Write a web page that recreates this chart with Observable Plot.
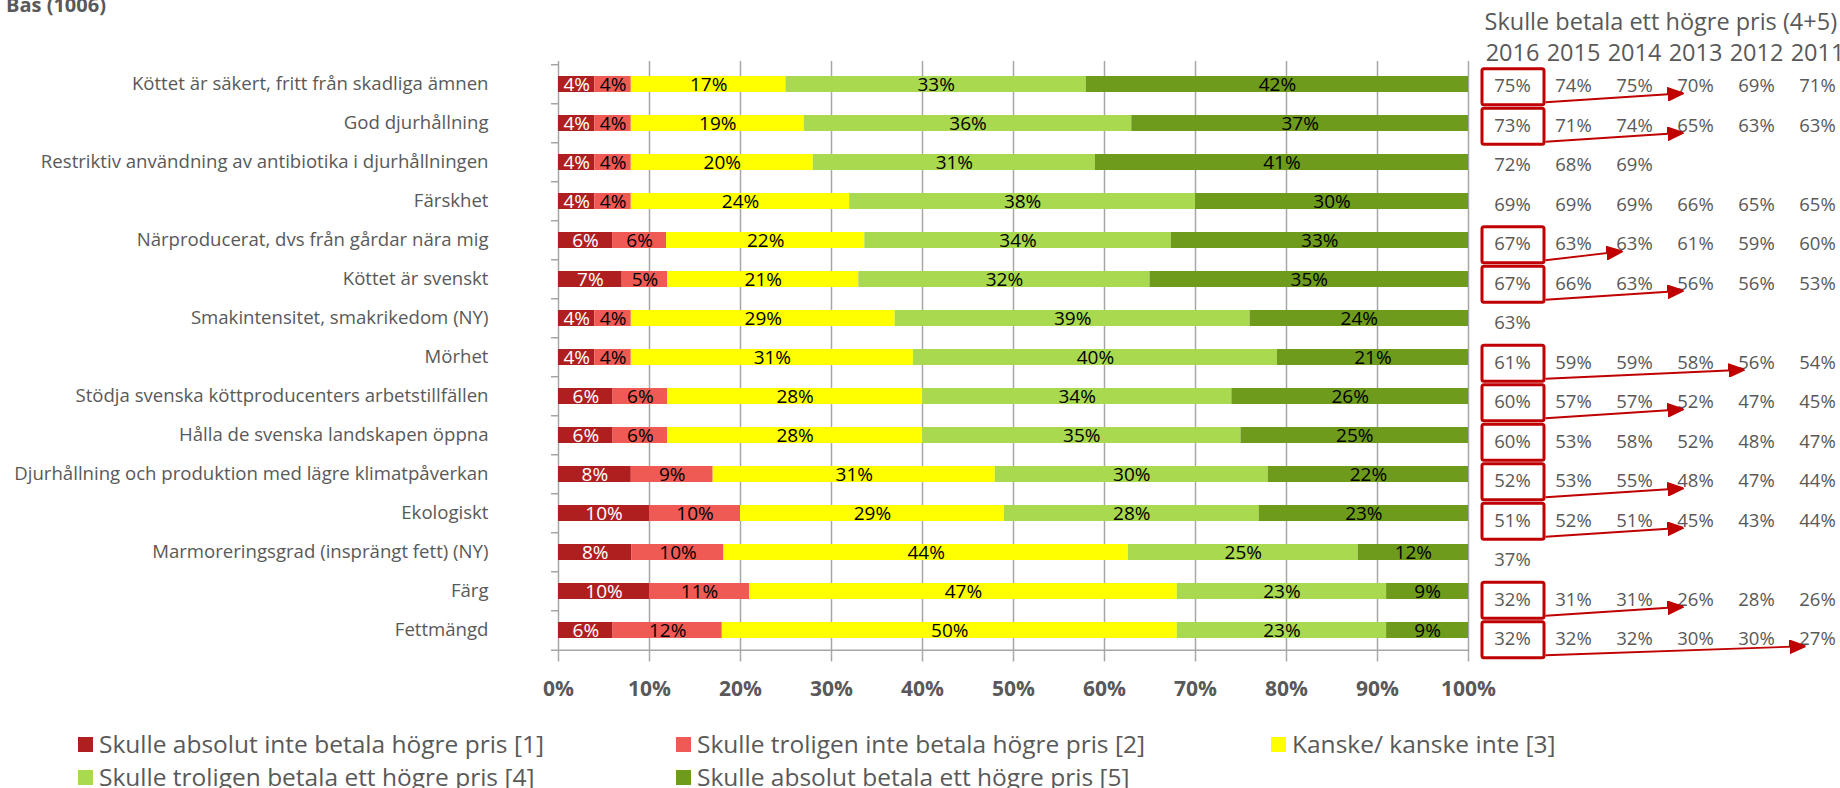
<!DOCTYPE html>
<html>
<head>
<meta charset="utf-8">
<script src="https://cdn.jsdelivr.net/npm/d3@7"></script>
<script src="https://cdn.jsdelivr.net/npm/@observablehq/plot@0.6"></script>
<style>
html, body { margin: 0; padding: 0; background: #fff; }
#root { position: relative; width: 1840px; height: 788px; overflow: hidden; font-family: "Open Sans", sans-serif; color: #595959; }
#title { position: absolute; left: 6px; top: -5px; font-weight: bold; font-size: 20px; line-height: 20px; white-space: nowrap; }
.legend-item { position: absolute; display: flex; align-items: center; height: 30px; line-height: 30px; font-size: 24.5px; white-space: nowrap; }
.sw { width: 15px; height: 15px; margin-right: 6px; flex: none; }
.chart { position: absolute; top: 0; }
</style>
</head>
<body>
<div id="root">
  <div id="title">Bas (1006)</div>
</div>
<script>
// ---------- data ----------
const categories = [
  "Köttet är säkert, fritt från skadliga ämnen",
  "God djurhållning",
  "Restriktiv användning av antibiotika i djurhållningen",
  "Färskhet",
  "Närproducerat, dvs från gårdar nära mig",
  "Köttet är svenskt",
  "Smakintensitet, smakrikedom (NY)",
  "Mörhet",
  "Stödja svenska köttproducenters arbetstillfällen",
  "Hålla de svenska landskapen öppna",
  "Djurhållning och produktion med lägre klimatpåverkan",
  "Ekologiskt",
  "Marmoreringsgrad (insprängt fett) (NY)",
  "Färg",
  "Fettmängd"
];
const levels = [
  "Skulle absolut inte betala högre pris [1]",
  "Skulle troligen inte betala högre pris [2]",
  "Kanske/ kanske inte [3]",
  "Skulle troligen betala ett högre pris [4]",
  "Skulle absolut betala ett högre pris [5]"
];
const colors = ["#B01F1F", "#F05A55", "#FFFF00", "#A9D94E", "#6E9B1B"];

const absolutInte  = [4, 4, 4, 4, 6, 7, 4, 4, 6, 6, 8, 10, 8, 10, 6];
const troligenInte = [4, 4, 4, 4, 6, 5, 4, 4, 6, 6, 9, 10, 10, 11, 12];
const kanske       = [17, 19, 20, 24, 22, 21, 29, 31, 28, 28, 31, 29, 44, 47, 50];
const troligen     = [33, 36, 31, 38, 34, 32, 39, 40, 34, 35, 30, 28, 25, 23, 23];
const absolut      = [42, 37, 41, 30, 33, 35, 24, 21, 26, 25, 22, 23, 12, 9, 9];
const series = [absolutInte, troligenInte, kanske, troligen, absolut];

const xTicks = [0, 0.1, 0.2, 0.3, 0.4, 0.5, 0.6, 0.7, 0.8, 0.9, 1];

const tableHeader = "Skulle betala ett högre pris (4+5)";
const years = ["2016", "2015", "2014", "2013", "2012", "2011"];
const tableValues = [
  [75, 74, 75, 70, 69, 71],
  [73, 71, 74, 65, 63, 63],
  [72, 68, 69, null, null, null],
  [69, 69, 69, 66, 65, 65],
  [67, 63, 63, 61, 59, 60],
  [67, 66, 63, 56, 56, 53],
  [63, null, null, null, null, null],
  [61, 59, 59, 58, 56, 54],
  [60, 57, 57, 52, 47, 45],
  [60, 53, 58, 52, 48, 47],
  [52, 53, 55, 48, 47, 44],
  [51, 52, 51, 45, 43, 44],
  [37, null, null, null, null, null],
  [32, 31, 31, 26, 28, 26],
  [32, 32, 32, 30, 30, 27]
];
const highlightedRows = [0, 1, 4, 5, 7, 8, 9, 10, 11, 13, 14];
const arrowRows    = [0, 1, 4, 5, 7, 8, 10, 11, 13, 14];
const arrowTargets = ["2013", "2013", "2014", "2013", "2012", "2013", "2013", "2013", "2013", "2011"];

// ---------- derived tables ----------
const long = categories.flatMap((cat, i) =>
  series.map((s, j) => ({cat, j, level: levels[j], value: s[i]}))
);
const tableLong = tableValues.flatMap((vals, row) =>
  vals.map((v, col) => ({row, col, v})).filter(d => d.v != null)
);
const arrows = arrowRows.map((row, k) => ({row, to: years.indexOf(arrowTargets[k])}));

// ---------- layout ----------
const W = 1480, H = 720, mT = 61, mB = 66.5, mL = 558, mR = 12;
const step = (H - mT - mB) / categories.length;
const grid = "#a6a6a6";
const font = "Open Sans, sans-serif";

const main = Plot.plot({
  width: W, height: H,
  marginTop: mT, marginBottom: mB, marginLeft: mL, marginRight: mR,
  style: {fontFamily: font, background: "transparent", overflow: "visible"},
  x: {domain: [0, 1]},
  y: {domain: categories, paddingInner: 0.59, paddingOuter: 0.295, align: 0.5},
  color: {type: "identity"},
  marks: [
    Plot.ruleX(xTicks, {stroke: grid, strokeWidth: 1.5}),
    Plot.ruleY(categories, {y: d => d, x1: () => 0, x2: () => 0, insetLeft: -7, dy: -step / 2, stroke: grid, strokeWidth: 1.5}),
    Plot.ruleY([categories[categories.length - 1]], {y: d => d, x1: () => 0, x2: () => 1, insetLeft: -7, dy: step / 2, stroke: grid, strokeWidth: 1.5}),
    Plot.barX(long, Plot.stackX({x: "value", y: "cat", z: "level", fill: d => colors[d.j], offset: "normalize"})),
    Plot.text(long, Plot.stackX({
      x: "value", y: "cat", z: "level", offset: "normalize",
      text: d => d.value + "%",
      fill: d => d.j === 0 ? "#ffffff" : "#000000",
      fontSize: 19
    })),
    Plot.axisY({tickSize: 0, tickPadding: 70, fontSize: 18.6, color: "#595959", label: null}),
    Plot.axisX(xTicks, {
      tickFormat: d3.format(".0%"), tickSize: 8, tickPadding: 19,
      fontSize: 21, fontWeight: "bold", stroke: grid, strokeWidth: 1.5, fill: "#595959", label: null
    })
  ]
});
main.classList.add("chart");
main.style.left = "0px";

// custom filled arrowhead marker
function arrowHead(color, context) {
  const ns = "http://www.w3.org/2000/svg";
  const doc = (context && context.document) || document;
  const m = doc.createElementNS(ns, "marker");
  m.setAttribute("viewBox", "-16 -7 16 14");
  m.setAttribute("markerWidth", 16);
  m.setAttribute("markerHeight", 14);
  m.setAttribute("markerUnits", "userSpaceOnUse");
  m.setAttribute("refX", 0);
  m.setAttribute("refY", 0);
  m.setAttribute("orient", "auto");
  const p = doc.createElementNS(ns, "path");
  p.setAttribute("d", "M-16,-6.5L0,0L-16,6.5Z");
  p.setAttribute("fill", color);
  m.appendChild(p);
  return m;
}

const TW = 370, TL = 1470, tmL = 42, tmR = 23;
const colStep = (TW - tmL - tmR) / (years.length - 1);
const red = "#C00000";

const table = Plot.plot({
  width: TW, height: H,
  marginTop: mT, marginBottom: mB, marginLeft: tmL, marginRight: tmR,
  style: {fontFamily: font, background: "transparent", overflow: "visible"},
  x: {domain: [0, years.length - 1], axis: null},
  y: {domain: [-0.5, categories.length - 0.5], reverse: true, axis: null},
  marks: [
    Plot.text([tableHeader], {frameAnchor: "top-left", lineAnchor: "middle", textAnchor: "start", dx: -28, dy: -39, fontSize: 23.5, fill: "#595959"}),
    Plot.text(years, {x: (d, i) => i, frameAnchor: "top", lineAnchor: "middle", dy: -8, fontSize: 23.5, fill: "#595959"}),
    Plot.text(tableLong, {x: "col", y: "row", text: d => d.v + "%", dy: 5, fontSize: 18.5, fill: "#595959"}),
    Plot.rect(highlightedRows, {
      x1: () => 0, x2: () => 0, y1: d => d, y2: d => d,
      insetLeft: -30, insetRight: -32, insetTop: -18, insetBottom: -18, dy: 6,
      fill: "none", stroke: red, strokeWidth: 3, rx: 2
    }),
    Plot.link(arrows, {
      x1: () => 33 / colStep, y1: d => d.row + 21 / step,
      x2: d => d.to - 12 / colStep, y2: d => d.row + 12 / step,
      stroke: red, strokeWidth: 1.8, markerEnd: arrowHead
    })
  ]
});
table.classList.add("chart");
table.style.left = TL + "px";

const root = document.getElementById("root");
root.appendChild(main);
root.appendChild(table);

// legend (HTML below the chart)
const legendCols = [78, 676, 1271];
const legendRows = [729, 762];
const legendSlots = [[0, 0], [1, 0], [2, 0], [0, 1], [1, 1]];
levels.forEach((lab, j) => {
  const [c, r] = legendSlots[j];
  const item = document.createElement("div");
  item.className = "legend-item";
  item.style.left = legendCols[c] + "px";
  item.style.top = legendRows[r] + "px";
  const sw = document.createElement("span");
  sw.className = "sw";
  sw.style.background = colors[j];
  const tx = document.createElement("span");
  tx.textContent = lab;
  item.appendChild(sw);
  item.appendChild(tx);
  root.appendChild(item);
});
</script>
</body>
</html>
